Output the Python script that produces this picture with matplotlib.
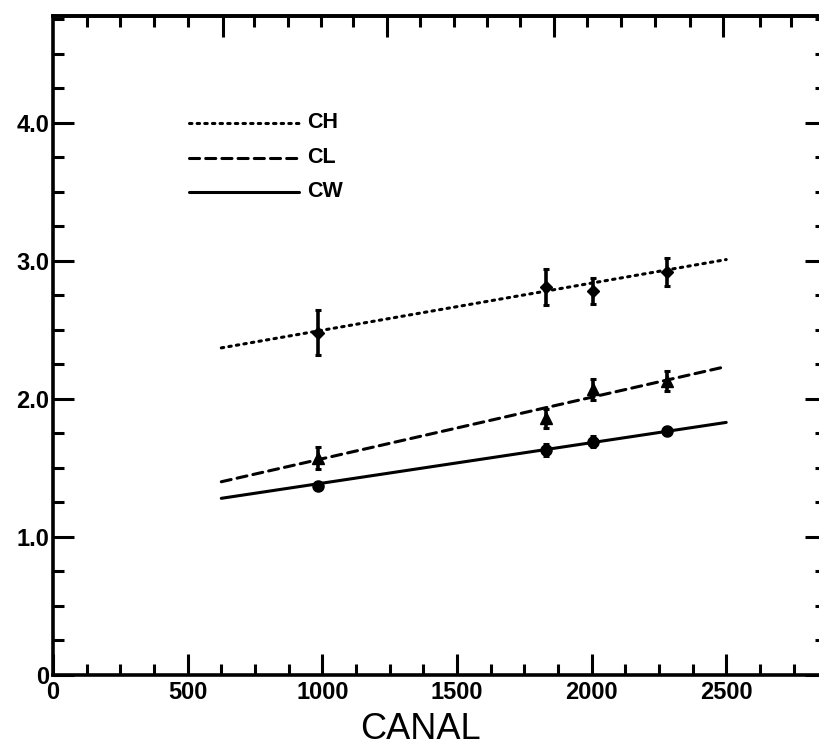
import numpy as np
import matplotlib
matplotlib.use("Agg")
import matplotlib.pyplot as plt

plt.rcParams['font.family'] = ['Liberation Sans', 'DejaVu Sans']

# measured points (canal, value, error)
canal = [985, 1830, 2005, 2280]
ch = [2.48, 2.81, 2.78, 2.92]
ch_err = [0.165, 0.13, 0.095, 0.10]
cl = [1.57, 1.86, 2.07, 2.13]
cl_err = [0.08, 0.07, 0.075, 0.07]
cw = [1.37, 1.63, 1.69, 1.77]
cw_err = [0.03, 0.04, 0.04, 0.03]

# fitted straight lines (end points)
fit_x = [625, 2500]
ch_fit = [2.37, 3.01]
cl_fit = [1.40, 2.235]
cw_fit = [1.28, 1.83]

x_ticks = [0, 500, 1000, 1500, 2000, 2500]
x_labels = ['0', '500', '1000', '1500', '2000', '2500']
y_ticks = [0, 1, 2, 3, 4]
y_labels = ['0', '1.0', '2.0', '3.0', '4.0']

# unlabelled top scale
top_major = [632, 1241, 1861, 2489]
top_minor = [126, 249, 375, 501, 747, 873, 996, 1114, 1363, 1490,
             1612, 1735, 1984, 2110, 2236, 2366, 2626, 2741]

styles = {
    'CH': dict(ls=(0, (0.8, 1.7)), lw=2.2, marker='D', ms=6),
    'CL': dict(ls=(0, (3.3, 2.0)), lw=2.2, marker='^', ms=8),
    'CW': dict(ls='-', lw=2.2, marker='o', ms=8),
}


def main():
    fig = plt.figure(figsize=(8.19, 7.46), dpi=100)
    ax = fig.add_axes([0.0647, 0.0952, 0.944, 0.8834])

    series = [('CH', ch, ch_err, ch_fit), ('CL', cl, cl_err, cl_fit),
              ('CW', cw, cw_err, cw_fit)]
    for name, vals, errs, fit in series:
        st = styles[name]
        ax.plot(fit_x, fit, color='black', ls=st['ls'], lw=st['lw'],
                solid_capstyle='round', dash_capstyle='round')
        ax.errorbar(canal, vals, yerr=errs, fmt=st['marker'], ms=st['ms'],
                    color='black', ecolor='black', elinewidth=2.6,
                    capsize=2.4, capthick=2.2)

    # legend drawn by hand
    leg_y = [0.838, 0.785, 0.733]
    for (name, st), yy in zip(styles.items(), leg_y):
        ax.plot([0.176, 0.318], [yy, yy], transform=ax.transAxes,
                color='black', ls=st['ls'], lw=st['lw'],
                solid_capstyle='round', dash_capstyle='round')
        ax.text(0.329, yy, name, transform=ax.transAxes, ha='left',
                va='center', fontsize=15.5, fontweight='bold')

    ax.set_xlim(0, 2871)
    ax.set_ylim(0, 4.775)

    ax.set_xticks(x_ticks, x_labels)
    ax.set_xticks(np.arange(0, 2871, 125), minor=True)
    ax.set_yticks(y_ticks, y_labels)
    ax.set_yticks(np.arange(0, 4.8, 0.25), minor=True)

    ax.tick_params(which='both', direction='in', width=2.2, top=False,
                   right=True, labelsize=17)
    ax.tick_params(which='major', length=15)
    ax.tick_params(which='minor', length=8)
    ax.tick_params(axis='x', pad=4)
    ax.tick_params(axis='y', pad=2.5)
    for lab in ax.get_xticklabels() + ax.get_yticklabels():
        lab.set_fontweight('bold')

    sec = ax.secondary_xaxis('top')
    sec.set_xticks(top_major, [''] * len(top_major))
    sec.set_xticks(top_minor, minor=True)
    sec.tick_params(which='both', direction='in', width=2.2)
    sec.tick_params(which='major', length=15)
    sec.tick_params(which='minor', length=8)
    sec.spines['top'].set_linewidth(2.6)

    for sp in ax.spines.values():
        sp.set_linewidth(2.6)
    ax.spines['right'].set_visible(False)

    ax.set_xlabel('CANAL', fontsize=26)
    ax.xaxis.set_label_coords(0.475, -0.056)

    fig.savefig('out.png', dpi=100)


if __name__ == "__main__":
    main()
